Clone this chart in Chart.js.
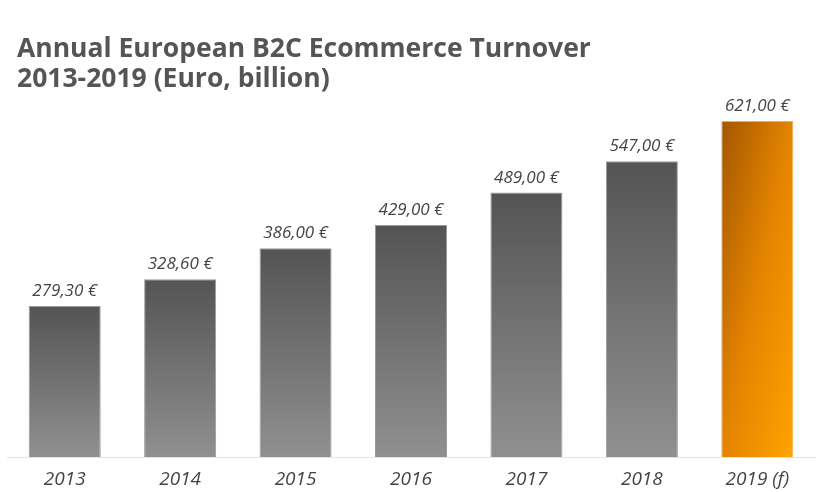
<!DOCTYPE html>
<html>
<head>
<meta charset="utf-8">
<script src="https://cdn.jsdelivr.net/npm/chart.js@4"></script>
<style>
  html, body { margin: 0; padding: 0; background: #fff; }
  #wrap { width: 823px; height: 492px; }
</style>
</head>
<body>
<div id="wrap"><canvas id="turnover"></canvas></div>
<script>
// data
const years = ['2013', '2014', '2015', '2016', '2017', '2018', '2019 (f)'];
const turnover = [279.3, 328.6, 386.0, 429.0, 489.0, 547.0, 621.0];
const forecastIndex = 6;
const titleLines = ['Annual European B2C Ecommerce Turnover', '2013-2019 (Euro, billion)'];
const barPct = 0.624;

function euro(v) {
  return v.toFixed(2).replace('.', ',') + ' €';
}

// gradient per bar, from its top down to the baseline
function barFill(ctx) {
  const chart = ctx.chart;
  const y = chart.scales.y;
  const x = chart.scales.x;
  const gray = '#737373';
  if (!y || !x || ctx.dataIndex === undefined) return gray;
  const top = y.getPixelForValue(turnover[ctx.dataIndex]);
  const bottom = y.getPixelForValue(0);
  const cx = x.getPixelForValue(ctx.dataIndex);
  if (![top, bottom, cx].every(Number.isFinite) || top === bottom) {
    return ctx.dataIndex === forecastIndex ? '#e48400' : gray;
  }
  const c = chart.ctx;
  if (ctx.dataIndex === forecastIndex) {
    // diagonal sweep: top-left dark, bottom-right bright
    const w = (x.width / years.length) * barPct;
    const h = bottom - top;
    const d = h * h + w * w;
    const x0 = cx - w / 2;
    const g = c.createLinearGradient(x0, top, x0 + 2 * w * h * h / d, top + 2 * w * h * w / d);
    g.addColorStop(0, '#a45700');
    g.addColorStop(0.5, '#e48400');
    g.addColorStop(1, '#ffa300');
    return g;
  }
  const g = c.createLinearGradient(0, top, 0, bottom);
  g.addColorStop(0, '#545454');
  g.addColorStop(1, '#909090');
  return g;
}

const valueLabels = {
  id: 'valueLabels',
  afterDatasetsDraw(chart) {
    const c = chart.ctx;
    const meta = chart.getDatasetMeta(0);
    c.save();
    c.font = 'italic 17px "Open Sans"';
    c.fillStyle = '#444';
    c.textAlign = 'center';
    c.textBaseline = 'alphabetic';
    meta.data.forEach((bar, i) => {
      c.fillText(euro(turnover[i]), bar.x, bar.y - 10);
    });
    c.restore();
  }
};

const titleBlock = {
  id: 'titleBlock',
  afterDraw(chart) {
    const c = chart.ctx;
    c.save();
    c.font = 'bold 26.5px "Open Sans"';
    c.fillStyle = '#555';
    c.textAlign = 'left';
    c.textBaseline = 'alphabetic';
    c.fillText(titleLines[0], 17, 57);
    c.fillText(titleLines[1], 17, 87);
    c.restore();
  }
};

new Chart(document.getElementById('turnover'), {
  type: 'bar',
  data: {
    labels: years,
    datasets: [{
      data: turnover,
      backgroundColor: barFill,
      borderColor: ctx => ctx.dataIndex === forecastIndex ? '#f0b050' : '#9a9a9a',
      borderWidth: 1,
      categoryPercentage: 1,
      barPercentage: barPct
    }]
  },
  options: {
    responsive: true,
    maintainAspectRatio: false,
    animation: false,
    layout: { padding: { left: 7, right: 8, top: 100, bottom: -2 } },
    plugins: {
      legend: { display: false },
      tooltip: { enabled: false },
      title: { display: false }
    },
    scales: {
      x: {
        grid: { display: false },
        border: { display: true, color: '#e4e4e4', width: 1 },
        ticks: {
          color: '#444',
          padding: 3,
          font: { family: 'Open Sans', size: 19, style: 'italic' }
        }
      },
      y: {
        display: false,
        min: 0,
        max: 660
      }
    }
  },
  plugins: [valueLabels, titleBlock]
});
</script>
</body>
</html>
